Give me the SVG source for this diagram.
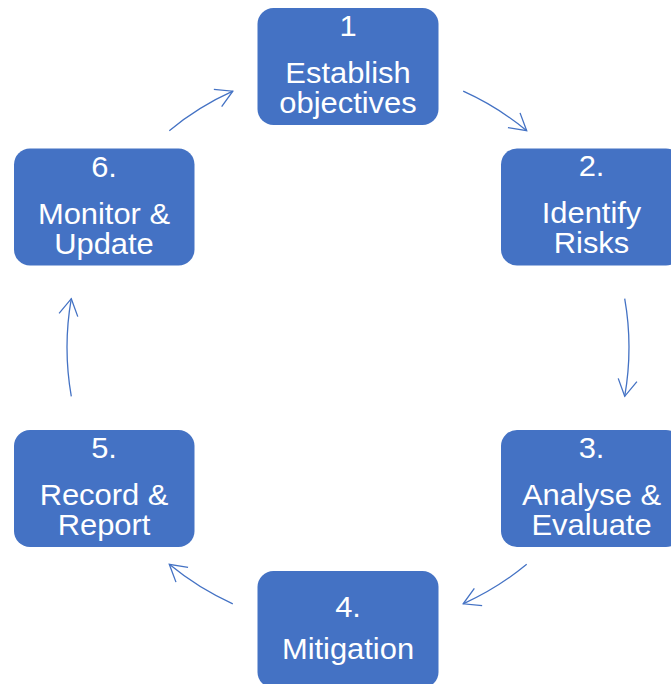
<svg xmlns="http://www.w3.org/2000/svg" width="671" height="684" viewBox="0 0 671 684">
<style>
.box{fill:#4472C4;}
.lbl{fill:#FFFFFF;font-family:"Liberation Sans",Arial,sans-serif;font-size:30px;text-anchor:middle;}
.arc{fill:none;stroke:#4472C4;stroke-width:1.3;marker-end:url(#ah);}
</style>
<defs>
<marker id="ah" markerUnits="userSpaceOnUse" markerWidth="40" markerHeight="40" refX="0" refY="0" orient="auto" overflow="visible">
<path d="M-16.5,-9.5 L0,0 L-16.5,9.5" fill="none" stroke="#4472C4" stroke-width="1.3"/>
</marker>
</defs>
<rect width="671" height="684" fill="#FFFFFF"/>
<g id="connectors">
<path class="arc" d="M463.2,91.2 A281,281 0 0 1 526.7,130.7"/>
<path class="arc" d="M624.7,298.7 A281,281 0 0 1 624.7,396.3"/>
<path class="arc" d="M526.7,564.3 A281,281 0 0 1 463.2,603.8"/>
<path class="arc" d="M232.8,603.8 A281,281 0 0 1 169.3,564.3"/>
<path class="arc" d="M71.3,396.3 A281,281 0 0 1 71.3,298.7"/>
<path class="arc" d="M169.3,130.7 A281,281 0 0 1 232.8,91.2"/>
</g>
<g id="node1">
<rect class="box" x="257.5" y="8" width="181" height="117" rx="16"/>
<text class="lbl" transform="translate(348,0) scale(1.03,1)"><tspan x="0" y="36">1</tspan><tspan x="0" y="83">Establish</tspan><tspan x="0" y="113">objectives</tspan></text>
</g>
<g id="node2">
<rect class="box" x="501" y="148.5" width="181" height="117" rx="16"/>
<text class="lbl" transform="translate(591.5,0) scale(1.03,1)"><tspan x="0" y="176">2.</tspan><tspan x="0" y="223">Identify</tspan><tspan x="0" y="253">Risks</tspan></text>
</g>
<g id="node3">
<rect class="box" x="501" y="430" width="181" height="117" rx="16"/>
<text class="lbl" transform="translate(591.5,0) scale(1.03,1)"><tspan x="0" y="458">3.</tspan><tspan x="0" y="505">Analyse &amp;</tspan><tspan x="0" y="535">Evaluate</tspan></text>
</g>
<g id="node4">
<rect class="box" x="257.5" y="571" width="181" height="117" rx="16"/>
<text class="lbl" transform="translate(348,0) scale(1.03,1)"><tspan x="0" y="617">4.</tspan><tspan x="0" y="659">Mitigation</tspan></text>
</g>
<g id="node5">
<rect class="box" x="14" y="430" width="180.5" height="117" rx="16"/>
<text class="lbl" transform="translate(104,0) scale(1.03,1)"><tspan x="0" y="458">5.</tspan><tspan x="0" y="505">Record &amp;</tspan><tspan x="0" y="535">Report</tspan></text>
</g>
<g id="node6">
<rect class="box" x="14" y="148.5" width="180.5" height="117" rx="16"/>
<text class="lbl" transform="translate(104,0) scale(1.03,1)"><tspan x="0" y="177">6.</tspan><tspan x="0" y="224">Monitor &amp;</tspan><tspan x="0" y="254">Update</tspan></text>
</g>
</svg>
